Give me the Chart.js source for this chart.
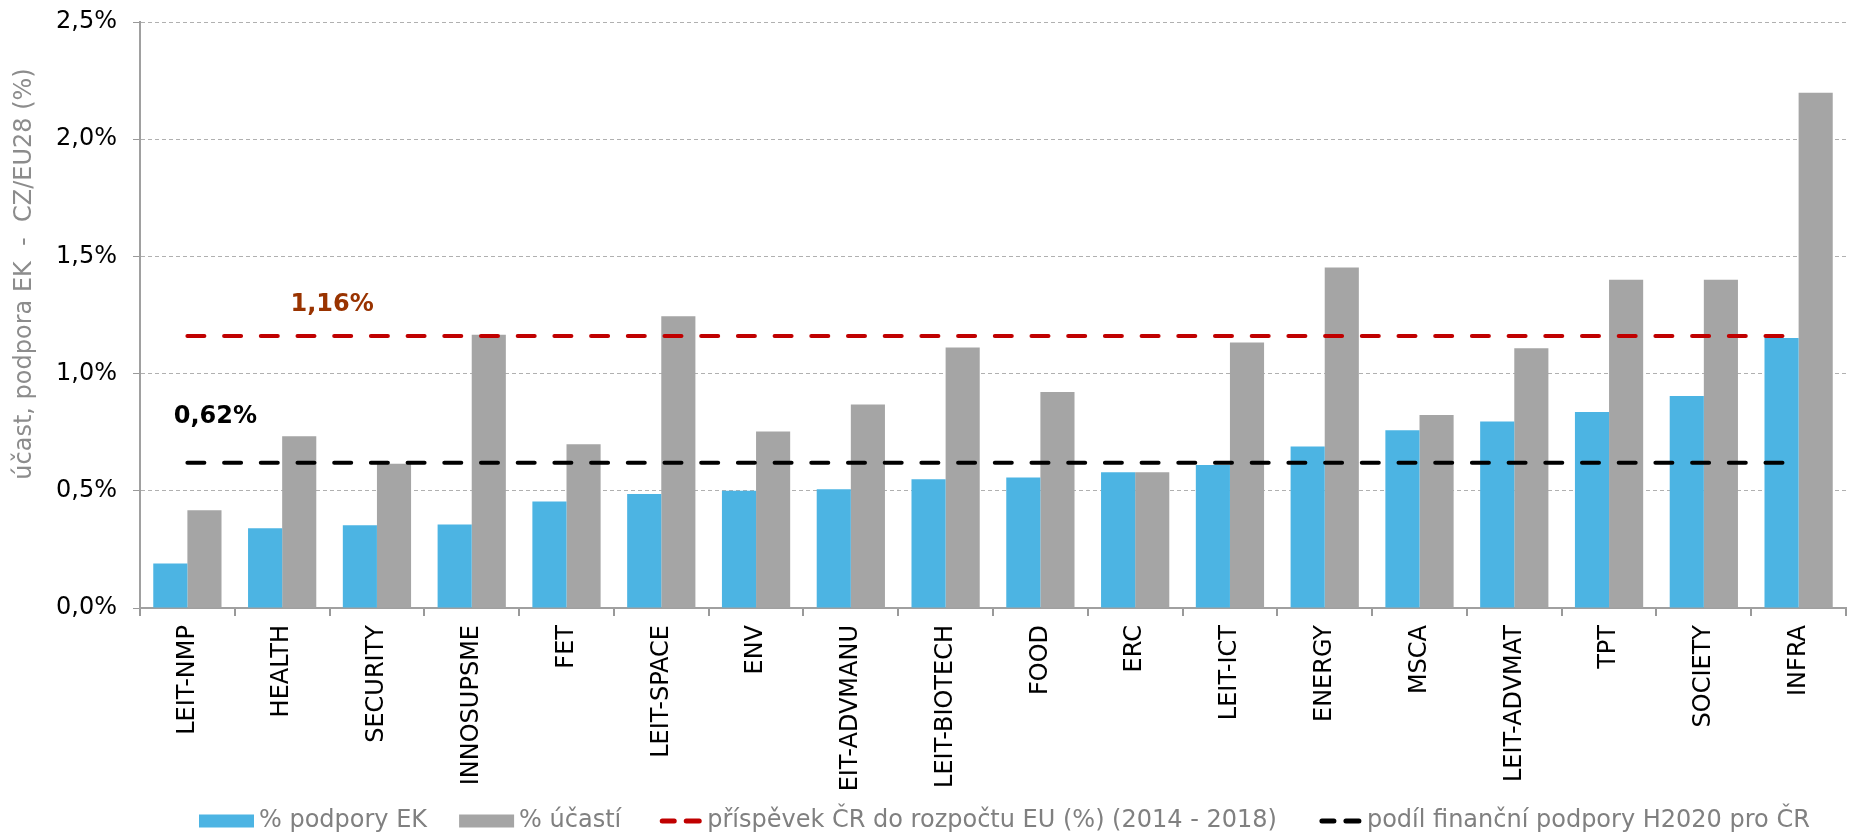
<!DOCTYPE html>
<html>
<head>
<meta charset="utf-8">
<script src="https://cdn.jsdelivr.net/npm/chart.js@4/dist/chart.umd.min.js"></script>
<style>
  html, body { margin: 0; padding: 0; background: #ffffff; }
  #wrap { width: 1855px; height: 835px; position: relative; }
</style>
</head>
<body>
<div id="wrap"><canvas id="c"></canvas></div>
<script>
// ---- data ----
const categories = ['LEIT-NMP','HEALTH','SECURITY','INNOSUPSME','FET','LEIT-SPACE','ENV','EIT-ADVMANU','LEIT-BIOTECH','FOOD','ERC','LEIT-ICT','ENERGY','MSCA','LEIT-ADVMAT','TPT','SOCIETY','INFRA'];
const podporaEK = [0.19,0.34,0.353,0.356,0.454,0.486,0.50,0.507,0.549,0.557,0.579,0.61,0.689,0.758,0.796,0.836,0.904,1.152];
const ucasti    = [0.417,0.733,0.615,1.166,0.699,1.245,0.753,0.868,1.111,0.921,0.579,1.133,1.453,0.823,1.108,1.40,1.40,2.198];
const prispevekCR = [1.16,1.16,1.16,1.16,1.16,1.16,1.16,1.16,1.16,1.16,1.16,1.16,1.16,1.16,1.16,1.16,1.16,1.16];
const podilH2020  = [0.62,0.62,0.62,0.62,0.62,0.62,0.62,0.62,0.62,0.62,0.62,0.62,0.62,0.62,0.62,0.62,0.62,0.62];
const seriesNames = ['% podpory EK','% účastí','příspěvek ČR do rozpočtu EU (%) (2014 - 2018)','podíl finanční podpory H2020 pro ČR'];
const refLabels = ['1,16%','0,62%'];
const yTicks = [0,0.5,1.0,1.5,2.0,2.5];
const yTitle = 'účast, podpora EK  -  CZ/EU28 (%)';

const FONT = 'DejaVu Sans';
const BLUE = '#4CB4E3', GRAY = '#A5A5A5', RED = '#C00000', BLACK = '#000000';

const annotPlugin = {
  id: 'annot',
  afterDatasetsDraw(chart) {
    const ctx = chart.ctx, xs = chart.scales.x, ys = chart.scales.y;
    ctx.save();
    ctx.font = 'bold 24px "' + FONT + '"';
    ctx.textAlign = 'center';
    ctx.textBaseline = 'middle';
    ctx.fillStyle = '#993300';
    ctx.fillText(refLabels[0], xs.getPixelForValue(1) + 50, ys.getPixelForValue(prispevekCR[0]) - 31);
    ctx.fillStyle = '#000000';
    ctx.fillText(refLabels[1], xs.getPixelForValue(0) + 28, ys.getPixelForValue(podilH2020[0]) - 46);
    ctx.restore();
  },
  afterDraw(chart) {
    const ctx = chart.ctx;
    // y axis title
    ctx.save();
    ctx.translate(25, 274);
    ctx.rotate(-Math.PI / 2);
    ctx.font = '24px "' + FONT + '"';
    ctx.fillStyle = '#8c8c8c';
    ctx.textAlign = 'center';
    ctx.textBaseline = 'middle';
    ctx.fillText(yTitle, 0, 0);
    ctx.restore();

    // legend
    ctx.save();
    ctx.font = '24px "' + FONT + '"';
    ctx.textBaseline = 'middle';
    ctx.textAlign = 'left';
    const cy = 821;
    const gaps = [32, 38, 42, 0];
    let x = 199;
    chart.data.datasets.forEach((d, i) => {
      if (d.type === 'bar') {
        ctx.fillStyle = d.backgroundColor;
        ctx.fillRect(x, cy - 6.5, 55, 13);
        x += 55 + 5;
      } else {
        ctx.strokeStyle = d.borderColor;
        ctx.lineWidth = 5;
        ctx.lineCap = 'round';
        ctx.setLineDash([]);
        ctx.beginPath();
        ctx.moveTo(x + 3, cy); ctx.lineTo(x + 15, cy);
        ctx.moveTo(x + 27, cy); ctx.lineTo(x + 40, cy);
        ctx.stroke();
        x += 40 + 8;
      }
      ctx.fillStyle = '#808080';
      ctx.fillText(d.label, x, cy);
      x += ctx.measureText(d.label).width + gaps[i];
    });
    ctx.restore();
  }
};

new Chart(document.getElementById('c'), {
  data: {
    labels: categories,
    datasets: [
      { type: 'bar', label: seriesNames[0], data: podporaEK, backgroundColor: BLUE, order: 2,
        categoryPercentage: 0.72, barPercentage: 1.0 },
      { type: 'bar', label: seriesNames[1], data: ucasti, backgroundColor: GRAY, order: 2,
        categoryPercentage: 0.72, barPercentage: 1.0 },
      { type: 'line', label: seriesNames[2], data: prispevekCR, borderColor: RED, borderWidth: 4,
        borderDash: [17, 19.7], borderCapStyle: 'round', pointRadius: 0, fill: false, order: 0 },
      { type: 'line', label: seriesNames[3], data: podilH2020, borderColor: BLACK, borderWidth: 4,
        borderDash: [17, 19.7], borderCapStyle: 'round', pointRadius: 0, fill: false, order: 0 }
    ]
  },
  options: {
    responsive: true,
    maintainAspectRatio: false,
    animation: false,
    devicePixelRatio: 1,
    layout: { padding: { left: 0, right: 9, top: 22, bottom: 35 } },
    plugins: {
      tooltip: { enabled: false },
      legend: { display: false }
    },
    scales: {
      x: {
        offset: true,
        grid: { display: true, drawOnChartArea: false, drawTicks: true, tickLength: 8, offset: true,
                color: '#999999', tickColor: '#999999', lineWidth: 2 },
        border: { display: true, color: '#a0a0a0', width: 2 },
        ticks: { autoSkip: false, maxRotation: 90, minRotation: 90, padding: 9, color: '#000000',
                 font: { family: FONT, size: 24 } },
        afterFit(scale) { scale.height = 192; scale.paddingLeft = 0; scale.paddingRight = 0; }
      },
      y: {
        min: 0, max: 2.5,
        afterBuildTicks(scale) { scale.ticks = yTicks.map(v => ({ value: v })); },
        grid: { display: true, drawOnChartArea: true, drawTicks: true, tickLength: 7,
                color: '#b0b0b0', tickColor: '#999999', tickBorderDash: [], lineWidth: 1 },
        border: { display: true, color: '#a0a0a0', width: 2, dash: [4, 3] },
        ticks: { padding: 16, color: '#000000', font: { family: FONT, size: 24 },
                 callback: (v) => v.toFixed(1).replace('.', ',') + '%' },
        afterFit(scale) { scale.width = 140; scale.paddingTop = 0; scale.paddingBottom = 0; }
      }
    }
  },
  plugins: [annotPlugin]
});
</script>
</body>
</html>
